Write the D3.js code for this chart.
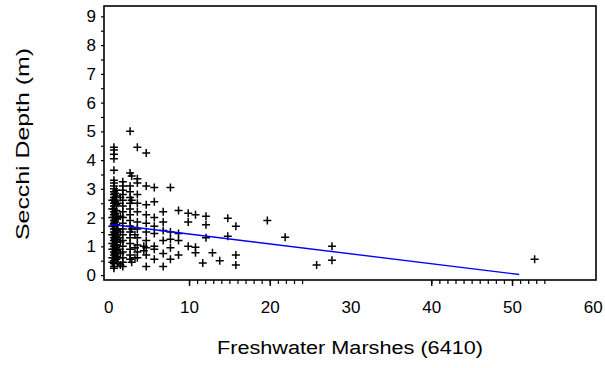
<!DOCTYPE html>
<html><head><meta charset="utf-8">
<script src="https://cdn.jsdelivr.net/npm/d3@7"></script>
<style>
html,body{margin:0;padding:0;background:#fff;}
svg{display:block;}
text{font-family:"Liberation Sans",Arial,sans-serif;fill:#000;}
</style></head>
<body>
<svg id="chart" width="605" height="368"></svg>
<script>
// ---- data ----
const marshX = [
 0.7,0.7,0.7,0.7,0.7,0.7,0.7,0.7,0.7,0.7,0.7,0.7,0.7,0.7,0.7,0.7,0.7,0.7,0.7,0.7,0.7,0.7,0.7,0.7,0.7,0.7,0.7,0.7,0.7,0.7,0.7,0.7,0.7,0.7,0.7,0.7,0.7,
 1.0,1.0,1.0,1.0,1.0,1.0,1.0,1.0,1.0,1.0,1.0,1.0,1.0,1.0,1.0,
 0.5,0.5,0.5,0.5,0.5,0.5,0.5,0.5,0.5,
 0.85,0.85,0.85,0.85,0.85,0.85,0.85,0.85,
 1.2,1.2,1.2,1.2,1.2,1.2,1.2,
 1.8,1.8,1.8,1.8,1.8,1.8,1.8,1.8,1.8,1.8,1.8,1.8,1.8,1.8,1.8,1.8,1.8,
 1.5,1.5,1.5,1.5,1.5,1.5,
 2.7,2.7,2.7,2.7,2.7,2.7,2.7,2.7,2.7,2.7,2.7,2.7,2.7,2.7,2.7,2.7,
 2.9,2.9,2.9,2.9,
 3.3,3.3,3.3,
 3.6,3.6,3.6,3.6,3.6,3.6,3.6,3.6,3.6,3.6,3.6,3.6,
 4.7,4.7,4.7,4.7,4.7,4.7,4.7,4.7,4.7,4.7,
 4.4,4.4,
 5.7,5.7,5.7,5.7,5.7,5.7,5.7,5.7,
 6.8,6.8,6.8,6.8,6.8,6.8,
 7.7,7.7,7.7,7.7,7.7,
 8.7,8.7,8.7,8.7,
 9.9,9.9,9.9,
 10.8,10.8,10.8,
 11.7,
 12.1,12.1,12.1,
 12.9,13.8,
 14.8,14.8,
 15.8,15.8,15.8,
 19.7,21.9,25.8,27.7,27.7,52.8
];
const secchiY = [
 4.45,4.35,4.2,4.05,3.65,3.3,3.2,3.1,3.0,2.9,2.8,2.7,2.6,2.5,2.4,2.3,2.2,2.1,2.0,1.9,1.8,1.7,1.6,1.5,1.4,1.3,1.2,1.1,1.0,0.9,0.8,0.7,0.6,0.5,0.4,0.3,0.24,
 2.95,2.75,2.45,2.25,1.95,1.75,1.55,1.35,1.25,1.15,1.05,0.95,0.85,0.65,0.55,
 2.6,2.3,2.0,1.7,1.4,1.1,0.9,0.6,0.45,
 2.85,2.55,2.15,1.85,1.45,1.25,1.05,0.75,
 2.5,2.0,1.6,1.3,0.9,0.6,0.4,
 3.25,3.1,2.95,2.8,2.6,2.4,2.2,2.0,1.8,1.6,1.4,1.2,1.0,0.8,0.6,0.45,0.3,
 2.7,2.05,1.5,1.15,0.75,0.35,
 5.0,3.55,3.1,2.9,2.7,2.5,2.3,2.1,1.9,1.7,1.5,1.3,1.1,0.9,0.7,0.55,
 3.45,2.6,1.6,0.45,
 1.4,0.95,0.6,
 4.45,3.35,3.2,2.8,2.5,2.2,1.85,1.6,1.3,1.05,0.8,0.6,
 4.25,3.1,2.45,2.1,1.8,1.5,1.2,0.95,0.7,0.3,
 1.0,0.85,
 3.05,2.55,2.0,1.7,1.45,1.0,0.9,0.55,
 2.2,1.85,1.55,1.2,0.75,0.3,
 3.05,1.5,1.25,0.95,0.55,
 2.25,1.45,1.2,0.7,
 2.15,1.85,1.0,
 2.1,0.97,0.78,
 0.42,
 2.05,1.75,1.3,
 0.78,0.5,
 1.98,1.35,
 1.7,0.7,0.35,
 1.9,1.32,0.35,1.0,0.52,0.55
];
const fitX = [0.2, 50.9];
const fitY = [1.77, 0.02];
const xTickLabels = [0, 10, 20, 30, 40, 50, 60];
const yTickLabels = [0, 1, 2, 3, 4, 5, 6, 7, 8, 9];
const xMajorMarks = [10, 20, 40, 50];
const xMinorRanges = [[10, 24], [40, 54]];
const xTitle = "Freshwater  Marshes  (6410)";
const yTitle = "Secchi  Depth  (m)";

// ---- drawing ----
const svg = d3.select("#chart");
const L = 104, R = 596, T = 6, B = 280;
const x = d3.scaleLinear().domain([-0.53, 60.4]).range([L, R]);
const y = d3.scaleLinear().domain([-0.17, 9.36]).range([B, T]);
const tickFont = "Liberation Sans, Arial, sans-serif";

// y axis ticks (every 0.5) and labels
const yMarks = d3.range(0, 9.01, 0.5);
svg.append("g").attr("transform", `translate(${L},0)`)
  .call(d3.axisLeft(y).tickValues(yMarks).tickSize(3).tickFormat(""))
  .call(g => g.select(".domain").remove())
  .call(g => g.selectAll("line").attr("stroke", "#000").attr("stroke-width", 1.2));
svg.append("g").attr("transform", `translate(${L},0)`)
  .call(d3.axisLeft(y).tickValues(yTickLabels).tickSize(0).tickPadding(8).tickFormat(d3.format("d")))
  .call(g => g.select(".domain").remove())
  .call(g => g.selectAll("text").attr("font-size", 17).attr("font-family", tickFont).attr("fill", "#000"));

// x axis: labels
svg.append("g").attr("transform", `translate(0,${B})`)
  .call(d3.axisBottom(x).tickValues(xTickLabels).tickSize(0).tickPadding(21).tickFormat(d3.format("d")))
  .call(g => g.select(".domain").remove())
  .call(g => g.selectAll("text").attr("font-size", 17).attr("font-family", tickFont).attr("fill", "#000"));
// x axis: minor and major marks
const xMinor = [];
xMinorRanges.forEach(r => d3.range(r[0], r[1] + 0.01, 1).forEach(v => xMinor.push(v)));
svg.append("g").attr("transform", `translate(0,${B})`)
  .call(d3.axisBottom(x).tickValues(xMinor).tickSize(4).tickFormat(""))
  .call(g => g.select(".domain").remove())
  .call(g => g.selectAll("line").attr("stroke", "#000").attr("stroke-width", 1.2));
svg.append("g").attr("transform", `translate(0,${B})`)
  .call(d3.axisBottom(x).tickValues(xMajorMarks).tickSize(6).tickFormat(""))
  .call(g => g.select(".domain").remove())
  .call(g => g.selectAll("line").attr("stroke", "#000").attr("stroke-width", 1.4));

// frame
svg.append("rect").attr("x", L).attr("y", T).attr("width", R - L).attr("height", B - T)
  .attr("fill", "none").attr("stroke", "#000").attr("stroke-width", 1.6);

// points
const pts = marshX.map((v, i) => [v, secchiY[i]]);
svg.append("g").selectAll("path").data(pts).join("path")
  .attr("transform", d => `translate(${x(d[0])},${y(d[1])})`)
  .attr("d", "M-4,0H4M0,-4V4")
  .attr("stroke", "#000").attr("stroke-width", 1.5).attr("fill", "none");

// regression line
const line = d3.line().x(d => x(d[0])).y(d => y(d[1]));
svg.append("path").datum(fitX.map((v, i) => [v, fitY[i]]))
  .attr("d", line).attr("stroke", "#0000ff").attr("stroke-width", 1.4).attr("fill", "none");

// titles
svg.append("text").attr("x", 350).attr("y", 354).attr("text-anchor", "middle")
  .attr("font-size", 18).attr("textLength", 266).attr("lengthAdjust", "spacingAndGlyphs")
  .text(xTitle);
svg.append("text").attr("transform", "translate(29,144) rotate(-90)").attr("text-anchor", "middle")
  .attr("font-size", 18).attr("textLength", 192).attr("lengthAdjust", "spacingAndGlyphs")
  .text(yTitle);
</script>
</body></html>
